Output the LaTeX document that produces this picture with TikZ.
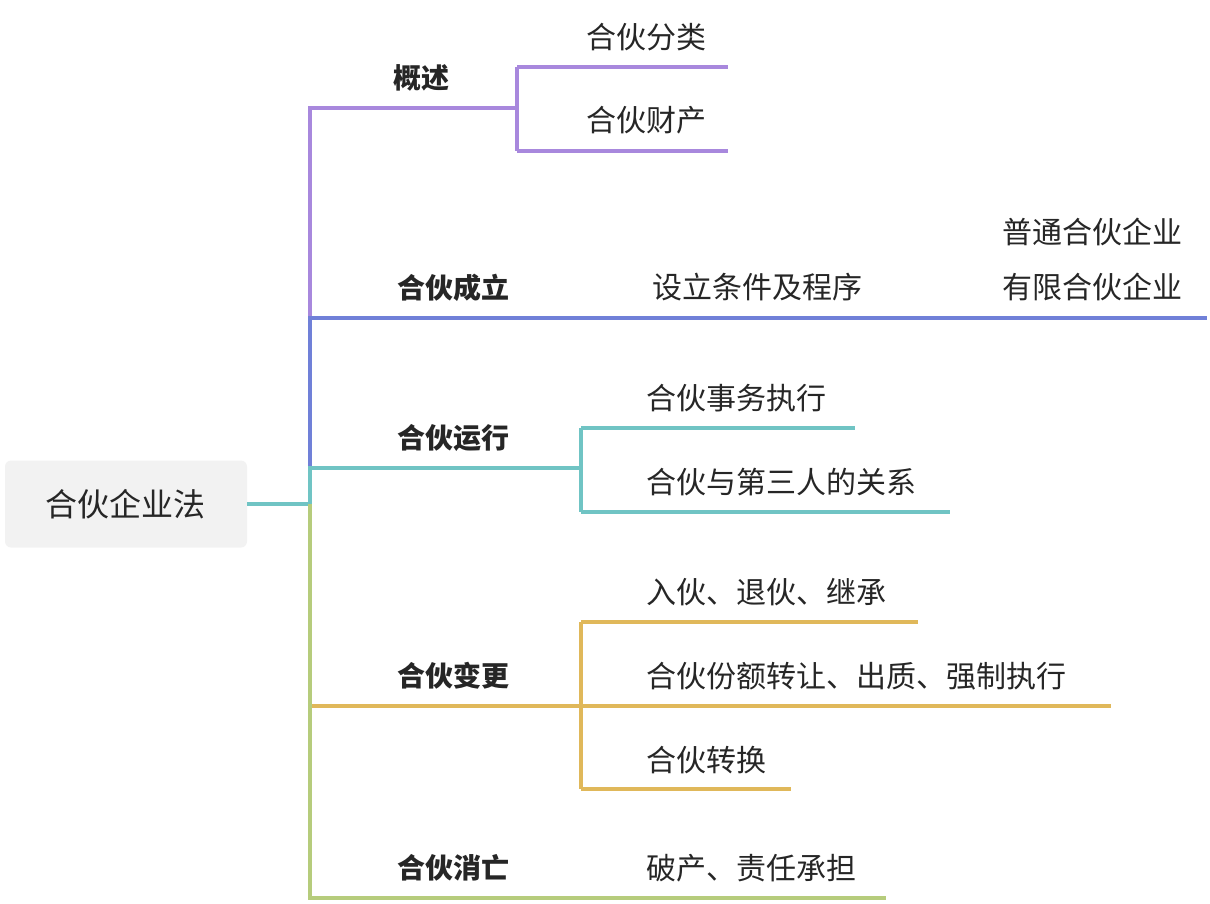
\documentclass[tikz,border=0pt]{standalone}
\usepackage{fontspec}
\setmainfont{Noto Sans CJK SC}
\newfontfamily\cjkb[BoldFont={* Bold}]{Noto Sans CJK SC}
\begin{document}
\begin{tikzpicture}[x=0.5pt,y=-0.5pt,
  ln/.style={line width=2pt},
  l1/.style={font=\fontsize{14}{16}\selectfont\bfseries, text=black!85},
  l2/.style={font=\fontsize{15}{17}\selectfont, text=black!85, anchor=west, inner sep=0pt},
  l2c/.style={font=\fontsize{15}{17}\selectfont, text=black!85, inner sep=0pt}]
\definecolor{cp}{HTML}{A888DD}
\definecolor{cb}{HTML}{7080D8}
\definecolor{ct}{HTML}{70C4C4}
\definecolor{cg}{HTML}{E0B85A}
\definecolor{cgr}{HTML}{B6CC7C}
\useasboundingbox (0,0) rectangle (1210,904);
\node[fill=black!5, rounded corners=3pt, minimum width=121pt, minimum height=43.5pt, font=\fontsize{16}{18}\selectfont, text=black!85] (root) at (126,504) {合伙企业法};
\coordinate (j) at (310,504);
\draw[ln,ct] (root.east) -- (j);
% purple
\draw[ln,cp] (j) -- (310,108) -- (517,108);
\draw[ln,cp] (517,67) -- (517,151);
\draw[ln,cp] (517,67) -- (728,67);
\draw[ln,cp] (517,151) -- (728,151);
\node[l1] (a) at (421,78) {概述};
\node[l2c] (a1) at (646,37) {合伙分类};
\node[l2c] (a2) at (646,120) {合伙财产};
% blue
\draw[ln,cb] (j) -- (310,318) -- (1207,318);
\node[l1] (b) at (453,288) {合伙成立};
\node[l2c] (b1) at (757,287) {设立条件及程序};
\node[l2c] (b2) at (1092,232) {普通合伙企业};
\node[l2c] (b3) at (1092,287) {有限合伙企业};
% teal
\draw[ln,ct] (j) -- (310,468) -- (581,468);
\draw[ln,ct] (581,428) -- (581,512);
\draw[ln,ct] (581,428) -- (855,428);
\draw[ln,ct] (581,512) -- (950,512);
\node[l1] (c) at (453,438) {合伙运行};
\node[l2] (c1) at (646,398) {合伙事务执行};
\node[l2] (c2) at (646,482) {合伙与第三人的关系};
% gold
\draw[ln,cg] (j) -- (310,706) -- (1111,706);
\draw[ln,cg] (581,622) -- (581,789);
\draw[ln,cg] (581,622) -- (918,622);
\draw[ln,cg] (581,789) -- (791,789);
\node[l1] (d) at (453,676) {合伙变更};
\node[l2] (d1) at (646,592) {入伙、退伙、继承};
\node[l2] (d2) at (646,676) {合伙份额转让、出质、强制执行};
\node[l2] (d3) at (646,760) {合伙转换};
% green
\draw[ln,cgr] (j) -- (310,898) -- (886,898);
\node[l1] (e) at (453,868) {合伙消亡};
\node[l2] (e1) at (646,868) {破产、责任承担};
\end{tikzpicture}
\end{document}
